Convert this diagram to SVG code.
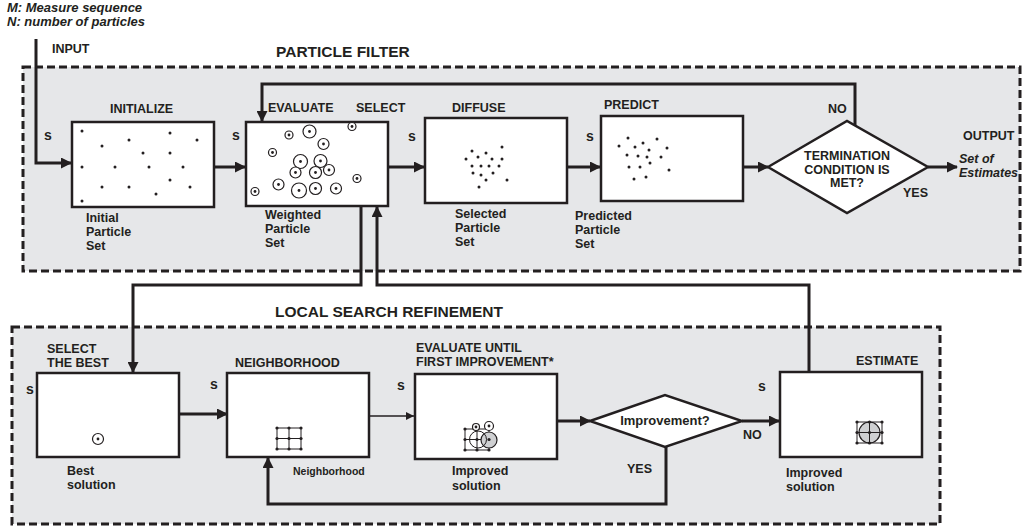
<svg xmlns="http://www.w3.org/2000/svg" width="1024" height="528" viewBox="0 0 1024 528">
<style>
text{font-family:"Liberation Sans",Arial,sans-serif;font-weight:bold;fill:#231f20}
.l{font-size:12.5px}
.t{font-size:15.5px}
.s{font-size:14px}
.it{font-style:italic;font-size:13px}
.sm{font-size:10.5px}
.mid{text-anchor:middle}
.box{fill:#fff;stroke:#231f20;stroke-width:2.5}
.dash{fill:#e6e7e9;stroke:#231f20;stroke-width:3;stroke-dasharray:8 4}
.c{fill:none;stroke:#231f20;stroke-width:3}
.thin{fill:none;stroke:#231f20;stroke-width:1.5}
.p{fill:#231f20}
.w{fill:#fff;stroke:#231f20;stroke-width:1.2}
.g{fill:none;stroke:#231f20;stroke-width:1}
.gr{fill:#cfd0d2;stroke:#231f20;stroke-width:1.2}
</style>
<defs>
<marker id="a" markerUnits="userSpaceOnUse" markerWidth="11" markerHeight="11" refX="10" refY="5.5" orient="auto"><path d="M0,0 L11,5.5 L0,11 z" fill="#231f20"/></marker>
<marker id="as" markerUnits="userSpaceOnUse" markerWidth="8" markerHeight="8" refX="8" refY="4" orient="auto"><path d="M0,0 L8,4 L0,8 z" fill="#231f20"/></marker>
</defs>

<g id="legend">
<text class="it" x="7" y="12">M: Measure sequence</text>
<text class="it" x="7" y="26">N: number of particles</text>
<text class="l" x="52" y="53">INPUT</text>
</g>

<g id="particle-filter">
<rect class="dash" x="23" y="67" width="997" height="204"/>
<text class="t" x="276" y="57">PARTICLE FILTER</text>
</g>

<g id="local-search">
<rect class="dash" x="12" y="327" width="928" height="197"/>
<text class="t" x="275" y="317">LOCAL SEARCH REFINEMENT</text>
</g>

<g id="connectors">
<path class="c" d="M36,39 V163 H71" marker-end="url(#a)"/>
<path class="c" d="M214,167 H245" marker-end="url(#a)"/>
<path class="c" d="M388,167 H424" marker-end="url(#a)"/>
<path class="c" d="M567,167 H600" marker-end="url(#a)"/>
<path class="c" d="M743,167 H768" marker-end="url(#a)"/>
<path class="c" d="M928,167 H957" marker-end="url(#a)"/>
<path class="c" d="M855,126 V84 H262 V121" marker-end="url(#a)"/>
<path class="c" d="M361,206 V285 H133 V372" marker-end="url(#a)"/>
<path class="c" d="M809,372 V285 H377 V207" marker-end="url(#a)"/>
<path class="c" d="M179,414 H227" marker-end="url(#a)"/>
<path class="thin" d="M369,416 H414" marker-end="url(#as)"/>
<path class="c" d="M557,421 H590" marker-end="url(#a)"/>
<path class="c" d="M742,421 H779" marker-end="url(#a)"/>
<path class="c" d="M666,447 V504 H268 V458" marker-end="url(#a)"/>
</g>

<g id="initialize">
<rect class="box" x="72" y="122" width="142" height="85"/>
<text class="l" x="110" y="113">INITIALIZE</text>
<text class="s" x="44" y="140">s</text>
<text class="l" x="86" y="222">Initial</text>
<text class="l" x="86" y="236">Particle</text>
<text class="l" x="86" y="250">Set</text>
<g class="p">
<circle cx="82" cy="131" r="1.5"/><circle cx="129" cy="140" r="1.5"/><circle cx="170" cy="133" r="1.5"/><circle cx="197" cy="140" r="1.5"/>
<circle cx="102" cy="146" r="1.5"/><circle cx="143" cy="153" r="1.5"/><circle cx="170" cy="153" r="1.5"/>
<circle cx="82" cy="167" r="1.5"/><circle cx="115" cy="167" r="1.5"/><circle cx="149" cy="167" r="1.5"/><circle cx="183" cy="167" r="1.5"/>
<circle cx="170" cy="180" r="1.5"/><circle cx="102" cy="187" r="1.5"/><circle cx="129" cy="187" r="1.5"/><circle cx="190" cy="187" r="1.5"/>
<circle cx="156" cy="194" r="1.5"/><circle cx="82" cy="201" r="1.5"/>
</g>
</g>

<g id="evaluate">
<rect class="box" x="246" y="122" width="142" height="84"/>
<text class="l" x="268" y="112">EVALUATE</text>
<text class="l" x="356" y="112">SELECT</text>
<text class="s" x="232" y="140">s</text>
<text class="l" x="265" y="219">Weighted</text>
<text class="l" x="265" y="233">Particle</text>
<text class="l" x="265" y="247">Set</text>
<g class="w">
<circle cx="289" cy="135" r="4"/><circle cx="309.5" cy="131.5" r="6.5"/><circle cx="352" cy="126.5" r="4"/><circle cx="323.5" cy="144" r="5.5"/>
<circle cx="272.5" cy="152.5" r="4"/><circle cx="300.5" cy="161.5" r="7"/><circle cx="320.5" cy="161" r="6.5"/><circle cx="295.5" cy="172.5" r="5.5"/>
<circle cx="315.5" cy="172.5" r="6"/><circle cx="329" cy="170" r="5.5"/><circle cx="357" cy="178.5" r="4"/><circle cx="278.5" cy="184.5" r="5.5"/>
<circle cx="299" cy="190.5" r="7.5"/><circle cx="315.5" cy="188.5" r="6"/><circle cx="336" cy="188.5" r="5.5"/><circle cx="255" cy="191.5" r="4"/>
</g>
<g class="p">
<circle cx="289" cy="135" r="1.4"/><circle cx="309.5" cy="131.5" r="1.4"/><circle cx="352" cy="126.5" r="1.4"/><circle cx="323.5" cy="144" r="1.4"/>
<circle cx="272.5" cy="152.5" r="1.4"/><circle cx="300.5" cy="161.5" r="1.4"/><circle cx="320.5" cy="161" r="1.4"/><circle cx="295.5" cy="172.5" r="1.4"/>
<circle cx="315.5" cy="172.5" r="1.4"/><circle cx="329" cy="170" r="1.4"/><circle cx="357" cy="178.5" r="1.4"/><circle cx="278.5" cy="184.5" r="1.4"/>
<circle cx="299" cy="190.5" r="1.4"/><circle cx="315.5" cy="188.5" r="1.4"/><circle cx="336" cy="188.5" r="1.4"/><circle cx="255" cy="191.5" r="1.4"/>
</g>
</g>

<g id="diffuse">
<rect class="box" x="425" y="118" width="142" height="85"/>
<text class="l" x="452" y="112">DIFFUSE</text>
<text class="s" x="408" y="141">s</text>
<text class="l" x="455" y="218">Selected</text>
<text class="l" x="455" y="232">Particle</text>
<text class="l" x="455" y="246">Set</text>
<g class="p">
<circle cx="502" cy="147" r="1.5"/><circle cx="472" cy="151" r="1.5"/><circle cx="486" cy="153" r="1.5"/><circle cx="478" cy="157" r="1.5"/>
<circle cx="466" cy="159" r="1.5"/><circle cx="492" cy="159" r="1.5"/><circle cx="502" cy="159" r="1.5"/><circle cx="472" cy="166" r="1.5"/>
<circle cx="481" cy="166" r="1.5"/><circle cx="489" cy="166" r="1.5"/><circle cx="499" cy="166" r="1.5"/><circle cx="473" cy="173" r="1.5"/>
<circle cx="481" cy="175" r="1.5"/><circle cx="493" cy="173" r="1.5"/><circle cx="486" cy="180" r="1.5"/><circle cx="507" cy="180" r="1.5"/>
<circle cx="479" cy="187" r="1.5"/>
</g>
</g>

<g id="predict">
<rect class="box" x="601" y="116" width="142" height="85"/>
<text class="l" x="604" y="109">PREDICT</text>
<text class="s" x="586" y="141">s</text>
<text class="l" x="575" y="220">Predicted</text>
<text class="l" x="575" y="234">Particle</text>
<text class="l" x="575" y="248">Set</text>
<g class="p">
<circle cx="628" cy="138" r="1.5"/><circle cx="643" cy="143" r="1.5"/><circle cx="657" cy="139" r="1.5"/><circle cx="619" cy="146" r="1.5"/>
<circle cx="635" cy="147" r="1.5"/><circle cx="649" cy="150" r="1.5"/><circle cx="667" cy="148" r="1.5"/><circle cx="627" cy="155" r="1.5"/>
<circle cx="638" cy="156" r="1.5"/><circle cx="647" cy="157" r="1.5"/><circle cx="661" cy="157" r="1.5"/><circle cx="650" cy="163" r="1.5"/>
<circle cx="629" cy="167" r="1.5"/><circle cx="640" cy="167" r="1.5"/><circle cx="669" cy="170" r="1.5"/><circle cx="634" cy="179" r="1.5"/>
<circle cx="646" cy="177" r="1.5"/>
</g>
</g>

<g id="termination">
<polygon class="box" points="768,167 847,121 928,167 847,213"/>
<text class="l mid" x="847" y="160">TERMINATION</text>
<text class="l mid" x="847" y="174">CONDITION IS</text>
<text class="l mid" x="847" y="187">MET?</text>
<text class="l" x="828" y="113">NO</text>
<text class="l" x="903" y="197">YES</text>
</g>

<g id="output">
<text class="l" x="963" y="140">OUTPUT</text>
<text class="l" x="959" y="163" font-style="italic">Set of</text>
<text class="l" x="959" y="177" font-style="italic">Estimates</text>
</g>

<g id="select-best">
<rect class="box" x="37" y="373" width="142" height="84"/>
<text class="l" x="47" y="353">SELECT</text>
<text class="l" x="47" y="367">THE BEST</text>
<text class="s" x="26" y="394">s</text>
<text class="l" x="67" y="475">Best</text>
<text class="l" x="67" y="489">solution</text>
<circle class="w" cx="98" cy="439" r="5.5"/>
<circle class="p" cx="98" cy="439" r="1.4"/>
</g>

<g id="neighborhood">
<rect class="box" x="227" y="373" width="142" height="84"/>
<text class="l" x="235" y="367">NEIGHBORHOOD</text>
<text class="s" x="210" y="389">s</text>
<text class="sm" x="293" y="475">Neighborhood</text>
<path class="g" d="M277,428 H301 M277,438.5 H301 M277,449 H301 M277,428 V449 M289,428 V449 M301,428 V449"/>
<g class="p">
<circle cx="277" cy="428" r="1.6"/><circle cx="289" cy="428" r="1.6"/><circle cx="301" cy="428" r="1.6"/>
<circle cx="277" cy="438.5" r="1.6"/><circle cx="289" cy="438.5" r="1.6"/><circle cx="301" cy="438.5" r="1.6"/>
<circle cx="277" cy="449" r="1.6"/><circle cx="289" cy="449" r="1.6"/><circle cx="301" cy="449" r="1.6"/>
</g>
</g>

<g id="evaluate-until">
<rect class="box" x="415" y="374" width="142" height="85"/>
<text class="l" x="416" y="352">EVALUATE UNTIL</text>
<text class="l" x="416" y="366">FIRST IMPROVEMENT*</text>
<text class="s" x="397" y="390">s</text>
<text class="l" x="452" y="475">Improved</text>
<text class="l" x="452" y="490">solution</text>
<path class="g" d="M465,429 H489 M465,439.5 H489 M465,450 H489 M465,429 V450 M477,429 V450 M489,429 V450"/>
<circle class="gr" cx="489" cy="440" r="8"/>
<circle cx="478" cy="439.5" r="8.5" fill="none" stroke="#231f20" stroke-width="1"/>
<circle class="w" cx="476" cy="427" r="3.5"/>
<circle class="w" cx="489" cy="426" r="4.5"/>
<g class="p">
<circle cx="465" cy="429" r="1.6"/><circle cx="476" cy="427" r="1.4"/><circle cx="489" cy="426" r="1.4"/>
<circle cx="465" cy="439.5" r="1.6"/><circle cx="477" cy="439.5" r="1.6"/><circle cx="489" cy="439.5" r="1.6"/>
<circle cx="465" cy="450" r="1.6"/><circle cx="477" cy="450" r="1.6"/><circle cx="489" cy="450" r="1.6"/>
</g>
</g>

<g id="improvement">
<polygon class="box" points="590,421 665,395 742,421 665,447"/>
<text class="mid" x="665" y="425" font-size="13">Improvement?</text>
<text class="l" x="627" y="473">YES</text>
<text class="l" x="743" y="439">NO</text>
</g>

<g id="estimate">
<rect class="box" x="780" y="372" width="142" height="85"/>
<text class="l" x="856" y="365">ESTIMATE</text>
<text class="s" x="758" y="391">s</text>
<text class="l" x="786" y="477">Improved</text>
<text class="l" x="786" y="491">solution</text>
<circle class="gr" cx="869.5" cy="432.5" r="10.5"/>
<path class="g" d="M857,422 H882 M857,432.5 H882 M857,443 H882 M857,422 V443 M869.5,422 V443 M882,422 V443"/>
<g class="p">
<circle cx="857" cy="422" r="1.6"/><circle cx="869.5" cy="422" r="1.6"/><circle cx="882" cy="422" r="1.6"/>
<circle cx="857" cy="432.5" r="1.6"/><circle cx="869.5" cy="432.5" r="1.6"/><circle cx="882" cy="432.5" r="1.6"/>
<circle cx="857" cy="443" r="1.6"/><circle cx="869.5" cy="443" r="1.6"/><circle cx="882" cy="443" r="1.6"/>
</g>
</g>
</svg>
